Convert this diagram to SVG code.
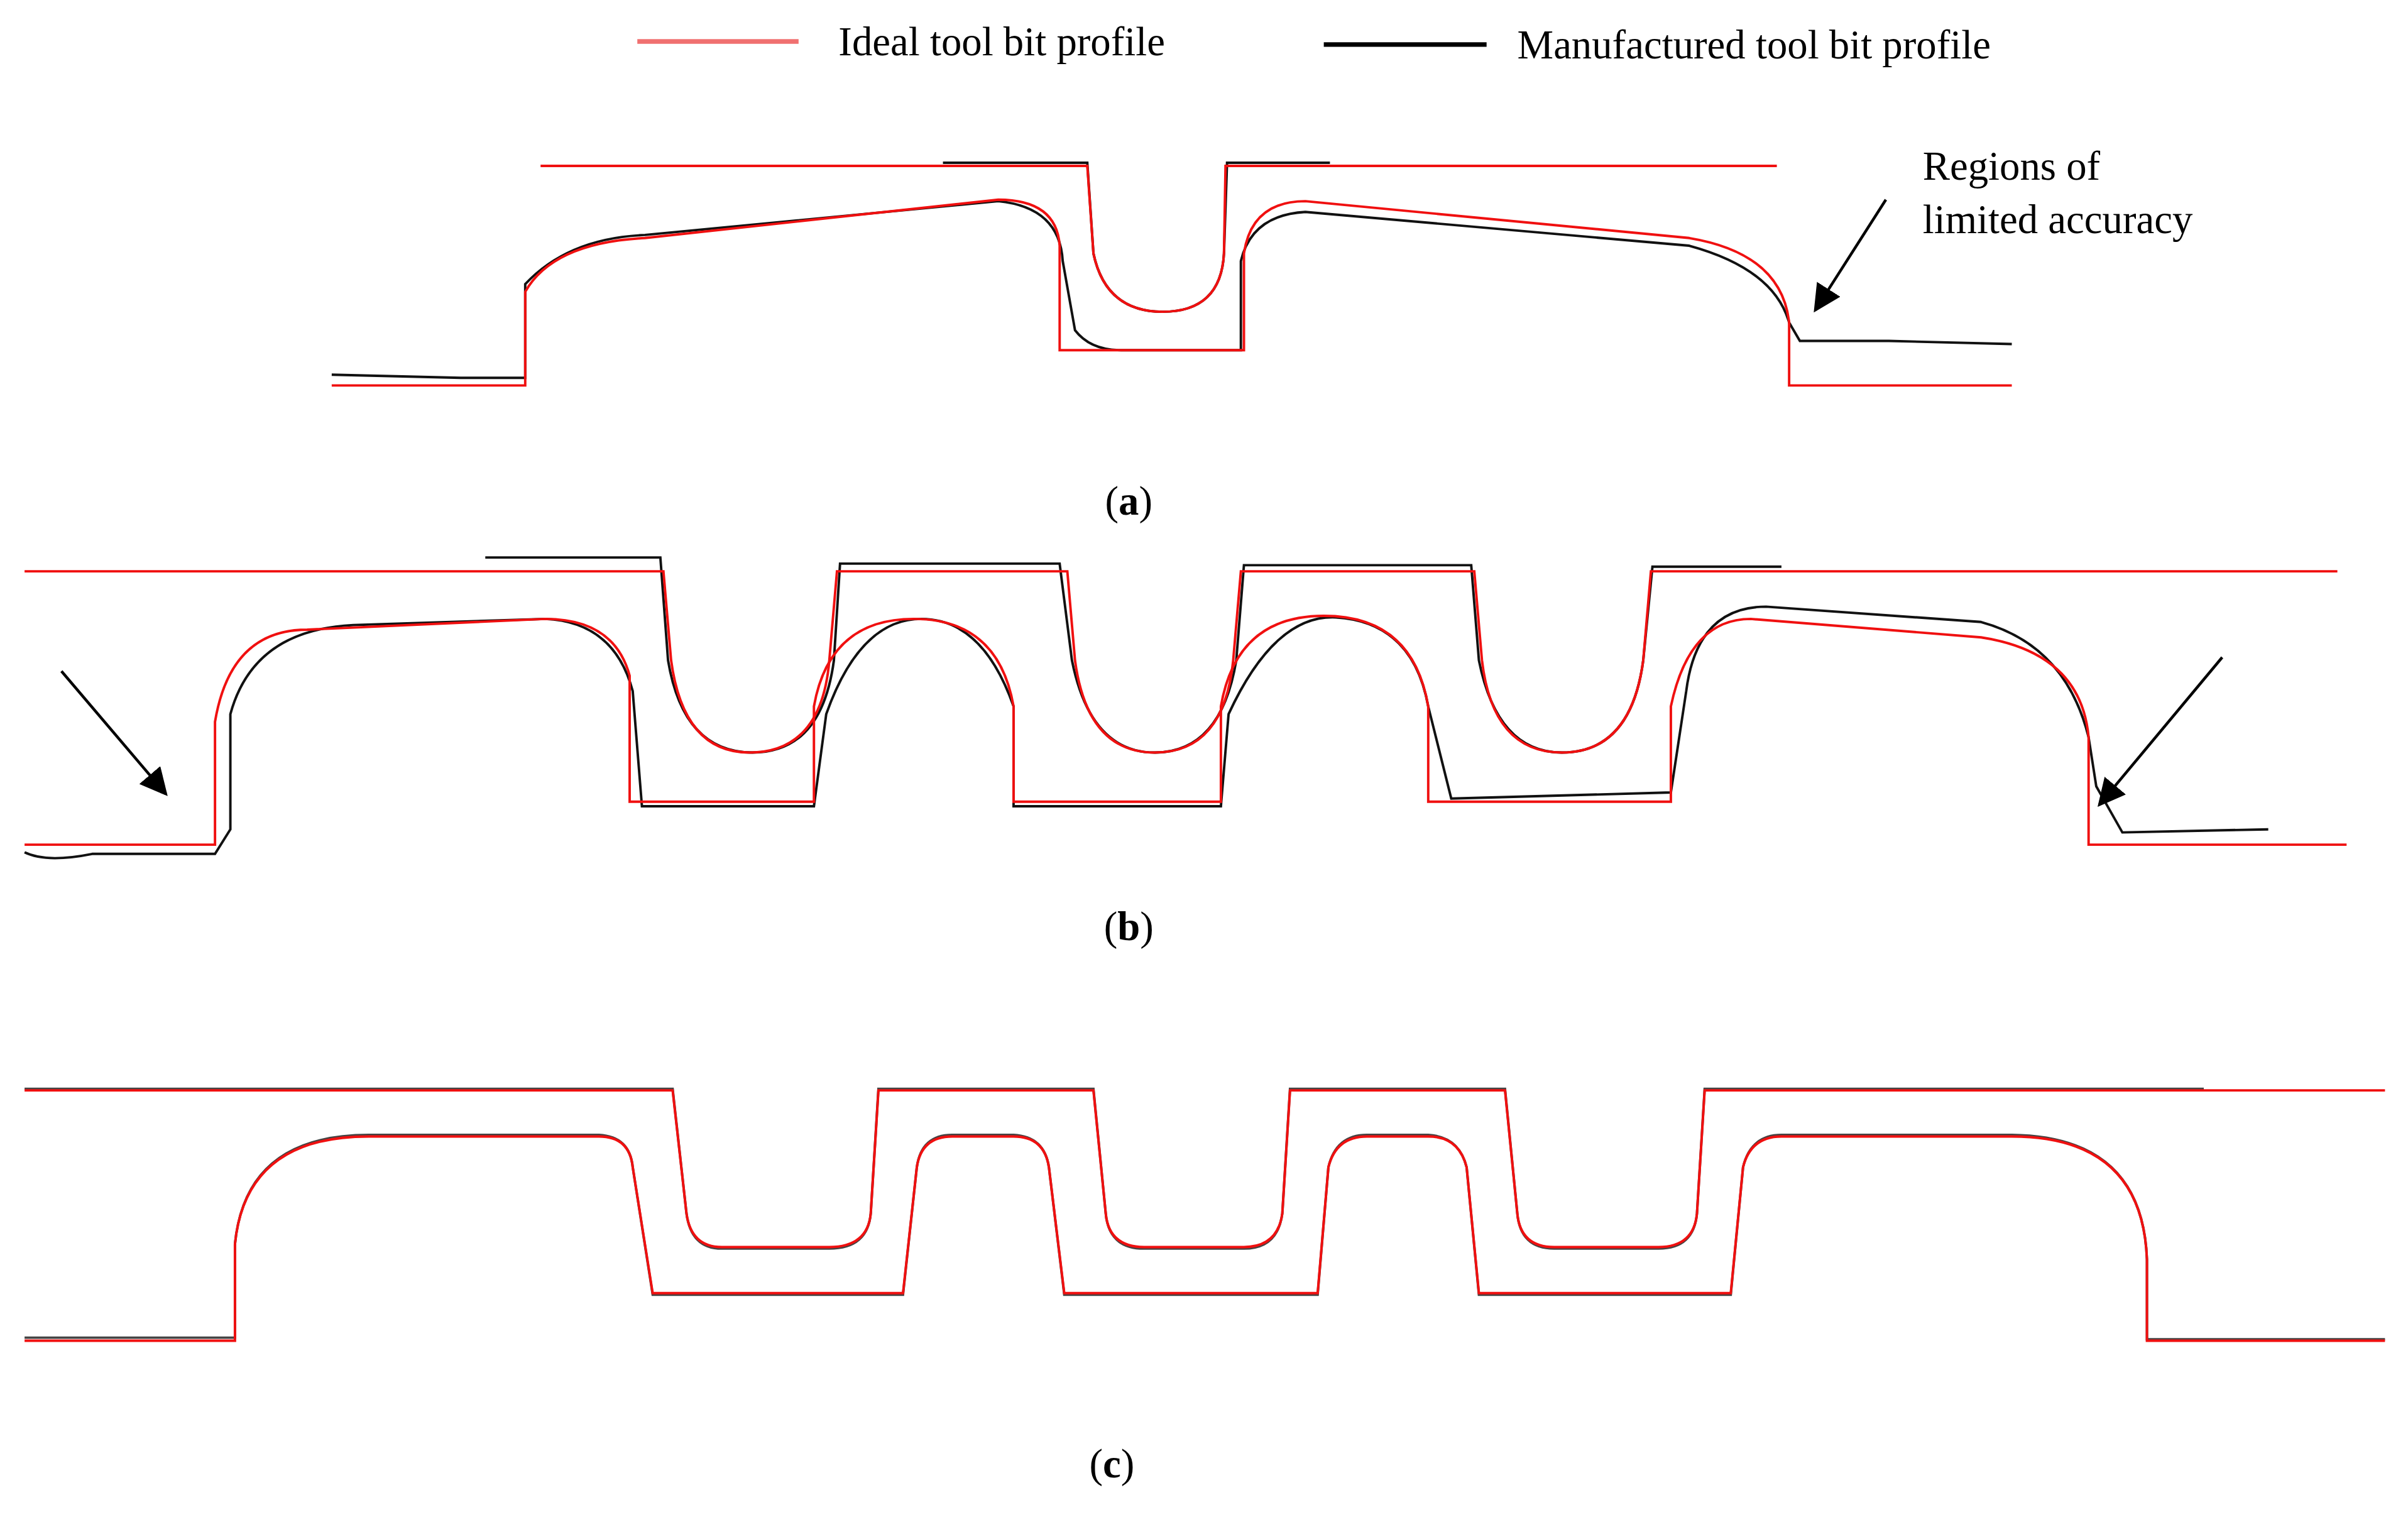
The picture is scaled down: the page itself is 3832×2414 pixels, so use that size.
<svg xmlns="http://www.w3.org/2000/svg" width="3832" height="2414" viewBox="0 0 3832 2414">
<style>
.r{fill:none;stroke:#f01010;stroke-width:1.6}
.k{fill:none;stroke:#111;stroke-width:1.6}
.g{fill:none;stroke:#444;stroke-width:1.6}
.t{font-family:"Liberation Serif",serif;font-size:26.5px;fill:#000}
.a{stroke:#000;stroke-width:1.8;marker-end:url(#ah)}
</style>
<defs><marker id="ah" viewBox="0 0 10 10" refX="9" refY="5" markerWidth="18" markerHeight="18" markerUnits="userSpaceOnUse" orient="auto"><path d="M0,0 L10,5 L0,10 z" fill="#000"/></marker>
<marker id="ah2" viewBox="0 0 10 10" refX="9" refY="5" markerWidth="30" markerHeight="30" markerUnits="userSpaceOnUse" orient="auto"><path d="M0,0 L10,5 L0,10 z" fill="#000"/></marker></defs>
<rect width="3832" height="2414" fill="#fff"/>
<g transform="scale(2.4439)">
<g id="legend">
<line x1="415" y1="27" x2="520" y2="27" stroke="#f07070" stroke-width="3"/>
<text class="t" x="546" y="36">Ideal tool bit profile</text>
<line x1="862" y1="29" x2="968" y2="29" stroke="#000" stroke-width="3"/>
<text class="t" x="988" y="38">Manufactured tool bit profile</text>
</g>
<g id="panel-a">
<path class="k" d="M614,106 H708 L712,165 Q720,203 757,203 Q795,203 797,165 L799,106 H866"/>
<path class="k" d="M216,244 L300,246 H342 V185 Q370,155 420,153 L650,131 Q690,135 692,170 L700,215 Q710,228 730,228 H808 V170 Q815,140 850,138 L1100,160 Q1155,175 1165,210 L1172,222 H1230 L1310,224"/>
<path class="r" d="M352,108 H708 L712,165 Q720,203 757,203 Q795,203 797,165 L798,108 H1157"/>
<path class="r" d="M216,251 H342 V190 Q360,158 420,155 L650,130 Q688,130 690,160 V228 H810 V165 Q815,131 850,131 L1100,155 Q1160,165 1165,210 V251 H1310"/>
<text class="t" x="1252" y="117">Regions of</text>
<text class="t" x="1252" y="152">limited accuracy</text>
<line class="a" x1="1228" y1="130" x2="1182" y2="202"/>
<text class="t" x="735" y="335" text-anchor="middle">(<tspan font-weight="bold">a</tspan>)</text>
</g>
<g id="panel-b">
<path class="k" d="M316,363 H430 L435,430 Q445,490 490,490 Q535,490 543,430 L547,367 H690 L698,430 Q710,490 752,490 Q795,490 805,430 L810,368 H958 L963,430 Q975,490 1017,490 Q1062,490 1070,430 L1076,369 H1160"/>
<path class="k" d="M16,555 Q30,562 60,556 H140 L150,540 V465 Q165,410 230,407 L355,403 Q400,405 412,450 L418,525 H530 L538,465 Q560,403 600,403 Q640,403 660,460 V525 H795 L800,465 Q830,400 870,402 Q920,405 930,460 L945,520 L1088,516 L1098,450 Q1105,395 1150,395 L1290,405 Q1345,420 1360,480 L1365,512 L1382,542 L1477,540"/>
<path class="r" d="M16,372 H432 L437,430 Q445,490 488,490 Q535,490 540,430 L545,372 H695 L700,430 Q708,490 752,490 Q797,490 803,430 L808,372 H960 L965,430 Q972,490 1017,490 Q1062,490 1070,430 L1075,372 H1522"/>
<path class="r" d="M16,550 H140 V470 Q150,410 200,410 L355,403 Q400,403 410,440 V522 H530 V460 Q540,403 595,403 Q650,403 660,460 V522 H795 V460 Q805,401 862,401 Q920,401 930,460 V522 H1088 V460 Q1100,403 1140,403 L1290,415 Q1355,425 1360,480 V550 H1528"/>
<line class="a" x1="40" y1="437" x2="108" y2="517" marker-end="url(#ah2)"/>
<line class="a" x1="1447" y1="428" x2="1367" y2="524" marker-end="url(#ah2)"/>
<text class="t" x="735" y="612" text-anchor="middle">(<tspan font-weight="bold">b</tspan>)</text>
</g>
<g id="panel-c">
<path class="g" d="M16,871 H153 V810 Q160,739 240,739 H390 Q410,740 412,760 L425,843 H588 L597,760 Q600,739 620,739 H660 Q680,740 683,760 L693,843 H858 L865,760 Q870,739 890,739 H930 Q950,740 955,760 L963,843 H1127 L1135,760 Q1140,739 1160,739 H1310 Q1395,740 1398,820 V872 H1553"/>
<path class="g" d="M16,709 H438 L447,790 Q450,813 470,813 H540 Q565,813 567,790 L572,709 H712 L720,790 Q722,813 745,813 H810 Q832,813 835,790 L840,709 H980 L988,790 Q990,813 1012,813 H1080 Q1103,813 1105,790 L1110,709 H1435"/>
<path class="r" d="M16,873 H153 V810 Q160,740 240,740 H390 Q410,740 412,760 L425,842 H588 L597,760 Q600,740 620,740 H660 Q680,740 683,760 L693,842 H858 L865,760 Q870,740 890,740 H930 Q950,740 955,760 L963,842 H1127 L1135,760 Q1140,740 1160,740 H1310 Q1395,740 1398,820 V873 H1553"/>
<path class="r" d="M16,710 H438 L447,790 Q450,812 470,812 H540 Q565,812 567,790 L572,710 H712 L720,790 Q722,812 745,812 H810 Q832,812 835,790 L840,710 H980 L988,790 Q990,812 1012,812 H1080 Q1103,812 1105,790 L1110,710 H1553"/>
<text class="t" x="724" y="962" text-anchor="middle">(<tspan font-weight="bold">c</tspan>)</text>
</g>
</g>
</svg>
